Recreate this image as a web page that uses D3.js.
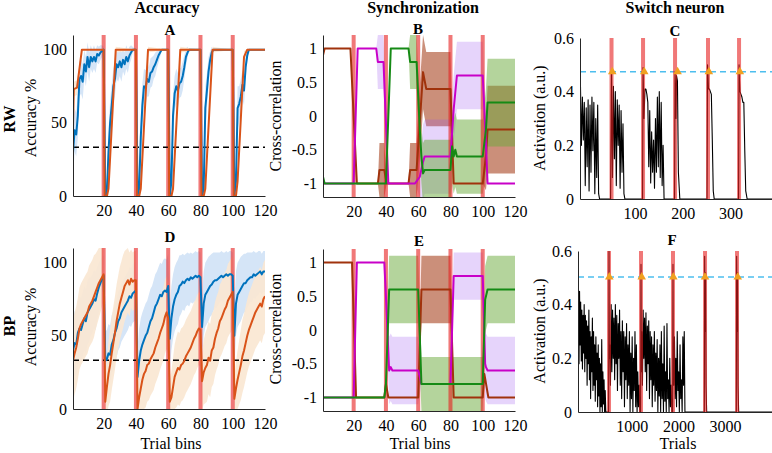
<!DOCTYPE html>
<html>
<head>
<meta charset="utf-8">
<script src="https://cdnjs.cloudflare.com/ajax/libs/d3/7.8.5/d3.min.js"></script>
<style>
body{margin:0;background:#fff;}
svg{display:block;}
text{font-family:"Liberation Serif","Times New Roman",serif;}
</style>
</head>
<body>
<div id="fig"></div>
<script>
// ---- data ----
var switchBins=[20,40,60,80,100];
var chanceLevel=33.3;
var binTicks=[20,40,60,80,100,120];
var accTicks=[0,50,100];
var corrTicks=[-1,-0.5,0,0.5,1];
var actTicks=[0,0.2,0.4,0.6];
var rwTrialTicks=[100,200,300];
var bpTrialTicks=[1000,2000,3000];
var rwSwitchTrials=[51,117,184,253,318];
var bpSwitchTrials=[514,1199,1884,2570,3255];
var rwCrossTrials=[52.5,119.5,189.3,254.8,319.7];
var bpCrossTrials=[520,1214,1891,2570,3270];
var rwThreshold=0.474, bpThreshold=0.503;

// [bin, mean, sd]
var rwAccBlue=[[1,30,18],[2,45,15],[3,42,15],[4,55,15],[5,80,12],[6,82,12],[7,78,12],[8,90,10],[9,85,10],[10,95,10],[11,88,10],[12,95,8],[13,92,8],[14,95,8],[15,92,8],[16,97,6],[17,96,6],[18,98,5],[19,99,4],[20,100,2],
 [21,0,5],[22,2,8],[23,30,15],[24,50,15],[25,62,15],[26,75,12],[27,80,12],[28,90,10],[29,88,10],[30,92,10],[31,88,10],[32,93,8],[33,90,8],[34,95,8],[35,92,8],[36,96,6],[37,98,5],[38,100,2],[40,100,0],
 [41,0,5],[42,5,8],[43,40,15],[44,62,15],[45,75,12],[46,74,12],[47,80,12],[48,78,10],[49,84,10],[50,85,10],[51,88,8],[52,90,8],[53,93,6],[54,96,5],[55,98,3],[56,100,0],[60,100,0],
 [61,0,5],[62,10,10],[63,55,15],[64,70,12],[65,75,12],[66,72,12],[67,77,10],[68,78,10],[69,82,10],[70,88,8],[71,95,6],[72,98,4],[73,100,0],[80,100,0],
 [81,0,5],[82,5,8],[83,60,15],[84,72,12],[85,85,10],[86,93,6],[87,98,4],[88,100,0],[100,100,0],
 [101,0,5],[102,10,10],[103,60,15],[104,63,12],[105,68,12],[106,76,10],[107,72,10],[108,88,8],[109,96,5],[110,100,0],[120,100,0]];
var rwAccOrange=[[1,47,5],[1.5,73,5],[3.5,74,5],[6.5,100,0],[20,100,0],[20.6,0,3],[22,0,3],[23,5,5],[27.5,100,2],[40,100,0],[40.6,0,3],[42,0,3],[43,5,5],[47.5,100,2],[60,100,0],[60.6,0,3],[62,0,3],[63,5,5],[67.5,100,2],[80,100,0],[80.6,0,3],[82,0,3],[83,5,5],[87.5,100,2],[100,100,0],[100.6,0,3],[102,0,3],[103,10,5],[107,95,4],[109,100,0],[120,100,0]];

var bpAccBlue=[[1,40,20],[2,45,22],[3,44,22],[4,52,22],[5,55,22],[6,54,22],[7,58,22],[8,62,22],[9,60,22],[10,66,22],[11,68,22],[12,70,20],[13,72,20],[14,75,20],[15,74,20],[16,79,18],[17,83,17],[18,86,16],[19,89,15],[20,91,14],
 [21,33,20],[22,34,20],[23,38,20],[24,37,20],[25,44,20],[26,47,20],[27,52,20],[28,55,20],[29,60,20],[30,62,20],[31,66,20],[32,68,20],[33,70,20],[34,72,20],[35,74,20],[36,77,20],[37,76,20],[38,79,20],[39,80,20],[40,81,20],
 [41,22,20],[42,33,22],[43,40,22],[44,44,22],[45,47,22],[46,50,22],[47,52,22],[48,56,22],[49,60,22],[50,62,22],[51,66,22],[52,70,22],[53,72,22],[54,75,22],[55,78,22],[56,77,22],[57,80,22],[58,81,22],[59,80,22],[60,84,22],
 [61,48,22],[62,62,22],[63,70,22],[64,75,22],[65,78,22],[66,80,22],[67,84,21],[68,85,20],[69,87,19],[70,86,19],[71,88,18],[72,89,18],[73,88,18],[74,90,17],[75,89,17],[76,90,17],[77,91,17],[78,90,17],[79,91,17],[80,90,17],
 [81,56,22],[82,72,22],[83,78,22],[84,80,22],[85,82,22],[86,84,21],[87,85,21],[88,87,20],[89,88,19],[90,88,19],[91,89,18],[92,90,17],[93,91,17],[94,90,17],[95,91,16],[96,92,16],[97,91,16],[98,92,16],[99,92,16],[100,91,16],
 [101,50,22],[102,72,22],[103,78,22],[104,80,22],[105,82,22],[106,84,21],[107,86,20],[108,86,20],[109,88,19],[110,89,18],[111,90,17],[112,90,17],[113,92,16],[114,91,16],[115,92,15],[116,93,15],[117,94,14],[118,92,14],[119,94,14],[120,94,14]];
var bpAccOrange=[[1,33,28],[2,38,28],[3,42,28],[4,48,28],[5,55,28],[6,58,28],[7,60,28],[8,62,28],[9,64,28],[10,66,28],[11,70,28],[12,72,28],[13,74,28],[14,77,28],[15,80,26],[16,83,25],[17,86,24],[18,88,22],[19,90,20],[20,92,18],
 [21,5,15],[22,15,20],[23,24,22],[24,30,25],[25,38,25],[26,45,25],[27,52,25],[28,60,25],[29,66,25],[30,72,25],[31,76,25],[32,80,25],[33,84,24],[34,86,23],[35,88,22],[36,85,22],[37,89,20],[38,87,20],[39,88,20],[40,88,20],
 [41,0,15],[42,8,18],[43,14,20],[44,20,22],[45,24,24],[46,26,25],[47,30,25],[48,31,25],[49,34,25],[50,36,25],[51,38,25],[52,42,25],[53,45,25],[54,48,25],[55,52,25],[56,55,25],[57,58,25],[58,63,25],[59,66,25],[60,62,25],
 [61,5,15],[62,8,18],[63,15,20],[64,22,22],[65,25,24],[66,28,25],[67,27,25],[68,30,25],[69,31,25],[70,33,25],[71,36,25],[72,38,25],[73,40,25],[74,42,25],[75,45,25],[76,48,25],[77,50,25],[78,53,25],[79,55,25],[80,54,25],
 [81,19,20],[82,25,22],[83,28,24],[84,30,25],[85,35,25],[86,33,25],[87,40,25],[88,42,25],[89,48,25],[90,52,25],[91,55,25],[92,60,25],[93,62,25],[94,65,25],[95,68,25],[96,70,25],[97,74,25],[98,76,25],[99,78,25],[100,80,25],
 [101,7,15],[102,14,18],[103,20,20],[104,25,22],[105,30,24],[106,36,25],[107,40,25],[108,45,25],[109,50,25],[110,54,25],[111,57,25],[112,60,25],[113,63,25],[114,66,25],[115,68,25],[116,70,25],[117,72,25],[118,70,25],[119,75,25],[120,77,25]];

var rwSyncBrown=[[1,0.9,0],[2,1,0],[18,1,0],[22,-1,0],[35,-1,0],[36,-0.8,0.4],[39,-0.8,0.4],[40.5,-1,0],[54,-1,0],[55,-0.8,0.4],[59,-0.8,0.4],[61,-0.1,0.55],[63,0.65,0.55],[65,0.4,0.55],[80,0.4,0.55],[82,-1,0],[100,-1,0],[102,-0.6,0.5],[103,-0.2,0.65],[120,-0.2,0.65]];
var rwSyncMagenta=[[1,-1,0],[20,-1,0],[22.5,1,0],[34,1,0],[35,0.8,0.4],[38.5,0.8,0.4],[41.5,-1,0],[58,-1,0],[61,-0.9,0.3],[63,-0.68,0.55],[64,-0.6,0.55],[80,-0.6,0.55],[82,0.1,0.5],[84,0.6,0.5],[100,0.6,0.5],[102,-0.4,0.2],[103,-1,0],[120,-1,0]];
var rwSyncGreen=[[1,-0.9,0],[2,-1,0],[40,-1,0],[43,1,0],[54,1,0],[55,0.8,0.4],[59,0.8,0.4],[61,-0.2,0.4],[62,-0.6,0.4],[63,-0.85,0.45],[64,-0.8,0.45],[80,-0.8,0.45],[81,-0.45,0.55],[82,-0.6,0.55],[83,-0.5,0.55],[84,-0.6,0.55],[100,-0.6,0.55],[102,-0.2,0.6],[103,0.2,0.65],[120,0.2,0.65]];

var bpSyncBrown=[[1,1,0],[19,1,0],[21.5,-1,0],[39,-1,0],[40,-0.8,0],[41.5,-1,0],[60,-1,0],[62,0.6,0.5],[80,0.6,0.5],[82,-1,0],[100,-1,0],[101,-0.65,0],[103.5,-1,0],[120,-1,0]];
var bpSyncMagenta=[[1,-1,0],[20,-1,0],[22,1,0],[39,1,0],[40,0.5,0.2],[42,-0.6,0.5],[43,-0.55,0.5],[44,-0.6,0.5],[60,-0.6,0.5],[62,-0.8,0],[80,-0.8,0],[82,0.8,0.35],[100,0.8,0.35],[101.5,-0.5,0.5],[102,-0.55,0.5],[103,-0.6,0.5],[120,-0.6,0.5]];
var bpSyncGreen=[[1,-1,0],[39,-1,0],[40,-0.8,0.1],[42,0.6,0.5],[60,0.6,0.5],[62,-0.8,0.4],[100,-0.8,0.4],[101.5,0.45,0.5],[103,0.6,0.5],[120,0.6,0.5]];

// [trial, activation]
var rwActivation=[[-14,0.42],[-12,0.20],[-10,0.38],[-8,0.22],[-6,0.36],[-4,0.05],[-2,0.34],[0,0.12],[2,0.37],[4,0.03],[6,0.35],[8,0.10],[10,0.38],[12,0.18],[14,0.36],[16,0.02],[18,0.30],[20,0.08],[22,0.35],[24,0.02],[26,0],
 [49,0],[51,0.47],[53,0.08],[55,0.42],[57,0.15],[59,0.40],[61,0.05],[63,0.37],[65,0.20],[67,0.35],[69,0.04],[71,0.33],[73,0.10],[75,0.28],[77,0.02],[79,0],
 [116,0],[117,0.49],[119,0.30],[121,0.41],[123,0.41],[125,0.39],[127,0.36],[129,0.12],[131,0.33],[133,0.06],[135,0.25],[137,0.10],[139,0.22],[141,0.04],[143,0.30],[145,0.10],[147,0.38],[149,0.12],[151,0.40],[153,0.08],[155,0.36],[157,0.05],[159,0.20],[161,0],
 [183,0],[184,0.47],[186,0.30],[187,0.46],[189,0.44],[191,0.10],[194,0],
 [251,0],[252,0.50],[253,0.46],[254,0.41],[256,0.41],[258,0.40],[260,0.39],[262,0.22],[264,0.03],[266,0],
 [317,0],[318,0.50],[319,0.44],[320,0.40],[322,0.39],[324,0.38],[326,0.36],[328,0.36],[330,0.18],[332,0.03],[335,0],
 [387,0]];
var bpActivation=[[-150,0.30],[-140,0.44],[-128,0.18],[-117,0.45],[-105,0.25],[-93,0.41],[-80,0.19],[-68,0.38],[-55,0.16],[-43,0.36],[-30,0.22],[-18,0.40],[-5,0.15],[8,0.36],[20,0.20],[33,0.34],[45,0.10],[58,0.32],[70,0.18],[83,0.38],[95,0.12],[108,0.30],[120,0.05],[133,0.28],[145,0.15],[158,0.35],[170,0.08],[183,0.30],[195,0.10],[208,0.25],[220,0.04],[233,0.28],[245,0.12],[258,0.22],[270,0.02],[283,0.25],[295,0.06],[308,0.20],[320,0.00],[333,0.18],[345,0.02],[358,0.27],[370,0.00],[383,0.15],[395,0.03],[408,0.12],[420,0.00],[433,0.08],[445,0],[505,0],
 [510,0.3],[514,0.6],[522,0.2],[530,0.25],[545,0.10],[560,0.40],[575,0.15],[590,0.38],[605,0.20],[620,0.35],[635,0.12],[650,0.40],[665,0.18],[680,0.36],[695,0.08],[710,0.33],[725,0.20],[740,0.38],[755,0.10],[770,0.30],[785,0.05],[800,0.34],[815,0.15],[830,0.30],[845,0.02],[860,0.28],[875,0.12],[890,0.33],[905,0.05],[920,0.25],[935,0.10],[950,0.30],[965,0.00],[980,0.22],[995,0.05],[1010,0.28],[1025,0.00],[1040,0.20],[1055,0.08],[1070,0.30],[1085,0.02],[1100,0.25],[1115,0.00],[1130,0.15],[1145,0.02],[1160,0.10],[1175,0],[1190,0],
 [1199,0.55],[1207,0.15],[1215,0.30],[1230,0.10],[1245,0.38],[1260,0.20],[1275,0.35],[1290,0.15],[1305,0.37],[1320,0.08],[1335,0.32],[1350,0.18],[1365,0.34],[1380,0.05],[1395,0.30],[1410,0.12],[1425,0.28],[1440,0.02],[1455,0.25],[1470,0.10],[1485,0.30],[1500,0.04],[1515,0.22],[1530,0.08],[1545,0.27],[1560,0.00],[1575,0.20],[1590,0.06],[1605,0.25],[1620,0.00],[1635,0.30],[1650,0.05],[1665,0.18],[1680,0.00],[1695,0.32],[1710,0.04],[1725,0.15],[1740,0.00],[1755,0.33],[1770,0.05],[1785,0.12],[1800,0.00],[1815,0.20],[1830,0.02],[1845,0.10],[1860,0],[1876,0],
 [1884,0.55],[1892,0.12],[1900,0.10],[1915,0.28],[1930,0.05],[1945,0.20],[1960,0.02],[1975,0.30],[1990,0.08],[2005,0.15],[2020,0.00],[2035,0.25],[2050,0.05],[2065,0.12],[2080,0.00],[2095,0.28],[2110,0.10],[2125,0.30],[2140,0],[2555,0],
 [2562,0.58],[2572,0.30],[2582,0.52],[2592,0.10],[2605,0],[3240,0],
 [3247,0.58],[3257,0.30],[3267,0.52],[3277,0.10],[3290,0],[4004,0]];

// ---- drawing ----
var svg=d3.select("#fig").append("svg").attr("width",772).attr("height",453);
var serif='"Liberation Serif","Times New Roman",serif';
var switchRed="rgb(230,30,30)";
var clipIdx=0;

function panel(p){
	var x=d3.scaleLinear().domain(p.xd).range([p.l,p.r]);
	var y=d3.scaleLinear().domain(p.yd).range([p.b,p.t]);
	var id="clip"+(clipIdx++);
	svg.append("clipPath").attr("id",id).append("rect")
		.attr("x",p.l).attr("y",p.t).attr("width",p.r-p.l).attr("height",p.b-p.t);
	var g=svg.append("g");
	var plot=g.append("g").attr("clip-path","url(#"+id+")");
	return {x:x,y:y,g:g,plot:plot,p:p};
}

function axes(P){
	var fmt=function(d){return String(d);};
	var gx=P.g.append("g").attr("transform","translate(0,"+P.p.b+")")
		.call(d3.axisBottom(P.x).tickValues(P.p.xt).tickSize(0).tickPadding(9).tickFormat(fmt));
	var gy=P.g.append("g").attr("transform","translate("+P.p.l+",0)")
		.call(d3.axisLeft(P.y).tickValues(P.p.yt).tickSize(0).tickPadding(6).tickFormat(fmt));
	[gx,gy].forEach(function(a){
		a.attr("font-family",serif).attr("font-size",16);
		a.select(".domain").attr("stroke","#262626").attr("stroke-width",1);
		a.selectAll("text").attr("fill","#000");
	});
}

function bands(P,series,fill,op){
	var area=d3.area().x(function(d){return P.x(d[0]);})
		.y0(function(d){return P.y(d[1]-d[2]);})
		.y1(function(d){return P.y(d[1]+d[2]);});
	P.plot.append("path").datum(series).attr("d",area).attr("fill",fill).attr("fill-opacity",op);
}
function curve(P,series,color,w){
	var line=d3.line().x(function(d){return P.x(d[0]);}).y(function(d){return P.y(d[1]);});
	P.plot.append("path").datum(series).attr("d",line).attr("fill","none")
		.attr("stroke",color).attr("stroke-width",w).attr("stroke-linejoin","round");
}
function redLines(P,xs){
	P.plot.selectAll(null).data(xs).enter().append("line")
		.attr("x1",function(d){return P.x(d);}).attr("x2",function(d){return P.x(d);})
		.attr("y1",P.p.t).attr("y2",P.p.b)
		.attr("stroke",switchRed).attr("stroke-opacity",0.6).attr("stroke-width",4);
}
function hDash(P,v,color,w){
	P.plot.append("line").attr("x1",P.p.l).attr("x2",P.p.r)
		.attr("y1",P.y(v)).attr("y2",P.y(v))
		.attr("stroke",color).attr("stroke-width",w).attr("stroke-dasharray","6,4");
}

// accuracy panels
function accPanel(p,blue,orange){
	var P=panel(p);
	bands(P,blue,"rgb(213,229,247)",1);
	bands(P,orange,"rgb(250,231,210)",0.92);
	redLines(P,switchBins);
	hDash(P,chanceLevel,"#000",1.5);
	curve(P,blue,"#0072BD",2);
	curve(P,orange,"#D95319",2);
	axes(P);
}
accPanel({l:73,r:265,t:35,b:196,xd:[1,120],yd:[0,110],xt:binTicks,yt:accTicks},rwAccBlue,rwAccOrange);
accPanel({l:73,r:265,t:248,b:409,xd:[1,120],yd:[0,110],xt:binTicks,yt:accTicks},bpAccBlue,bpAccOrange);

// synchronization panels
function syncPanel(p,brown,magenta,green){
	var P=panel(p);
	bands(P,brown,"#a0330d",0.55);
	bands(P,magenta,"#9a55f0",0.25);
	bands(P,green,"#6aaa3a",0.5);
	redLines(P,switchBins);
	curve(P,brown,"#a0320c",2);
	curve(P,magenta,"#c800c8",2);
	curve(P,green,"#158a15",2);
	axes(P);
}
syncPanel({l:323,r:515,t:35,b:197,xd:[1,120],yd:[-1.2,1.2],xt:binTicks,yt:corrTicks},rwSyncBrown,rwSyncMagenta,rwSyncGreen);
syncPanel({l:323,r:515,t:249,b:411,xd:[1,120],yd:[-1.2,1.2],xt:binTicks,yt:corrTicks},bpSyncBrown,bpSyncMagenta,bpSyncGreen);

// switch neuron panels
function switchPanel(p,act,sw,cross,thr){
	var P=panel(p);
	hDash(P,thr,"#4DBEEE",1.5);
	curve(P,act,"#000",1.1);
	redLines(P,sw);
	P.plot.selectAll(null).data(cross).enter().append("path")
		.attr("d",d3.symbol().type(d3.symbolTriangle).size(32))
		.attr("transform",function(d){return "translate("+P.x(d)+","+P.y(thr)+")";})
		.attr("fill","#F0A020");
	axes(P);
}
switchPanel({l:580,r:772,t:38,b:199,xd:[-15,387],yd:[0,0.6],xt:rwTrialTicks,yt:actTicks},rwActivation,rwSwitchTrials,rwCrossTrials,rwThreshold);
switchPanel({l:578,r:772,t:251,b:412,xd:[-150,4004],yd:[0,0.6],xt:bpTrialTicks,yt:actTicks},bpActivation,bpSwitchTrials,bpCrossTrials,bpThreshold);

// ---- texts ----
function label(txt,x,y,opt){
	opt=opt||{};
	var t=svg.append("text").text(txt).attr("text-anchor","middle")
		.attr("font-family",serif).attr("font-size",opt.size||16)
		.attr("font-weight",opt.bold?"bold":"normal").attr("fill","#000");
	if(opt.rot){t.attr("transform","translate("+x+","+y+") rotate(-90)");}
	else{t.attr("x",x).attr("y",y);}
}
label("Accuracy",167,13,{bold:1});
label("Synchronization",423,13,{bold:1});
label("Switch neuron",675,13,{bold:1});
label("A",170,35,{bold:1,size:15});
label("B",418,34,{bold:1,size:15});
label("C",675,36,{bold:1,size:15});
label("D",170,242,{bold:1,size:15});
label("E",419,246,{bold:1,size:15});
label("F",672,245,{bold:1,size:15});
label("RW",15,119,{bold:1,rot:1});
label("BP",15,326,{bold:1,rot:1});
label("Accuracy %",36,118,{rot:1});
label("Accuracy %",36,327,{rot:1});
label("Cross-correlation",281,116,{rot:1});
label("Cross-correlation",281,329,{rot:1});
label("Activation (a.u.)",545,118,{rot:1});
label("Activation (a.u.)",545,331,{rot:1});
label("Trial bins",171,449);
label("Trial bins",420,449);
label("Trials",678,449);
</script>
</body>
</html>
